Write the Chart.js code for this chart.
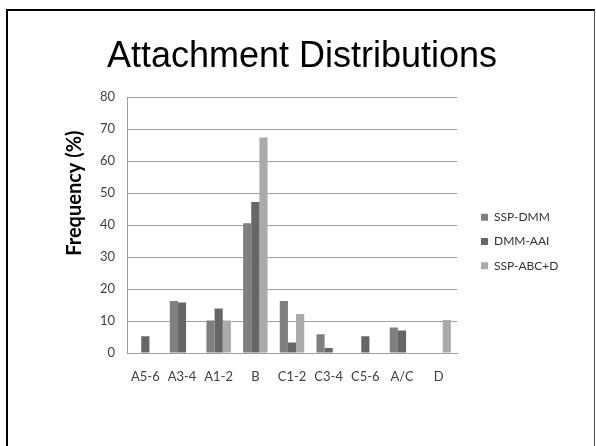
<!DOCTYPE html>
<html>
<head>
<meta charset="utf-8">
<script src="https://cdn.jsdelivr.net/npm/chart.js@4.4.1/dist/chart.umd.min.js"></script>
<style>
  html, body { margin: 0; padding: 0; background: #fff; }
  #wrap { position: relative; width: 596px; height: 446px; overflow: hidden; }
  #frame {
    position: absolute; left: 6px; top: 9px; width: 589px; height: 460px;
    border-left: 2px solid #000; border-top: 2px solid #000; border-right: 1px solid #444;
    box-sizing: border-box;
  }
  canvas { position: absolute; left: 0; top: 0; }
</style>
</head>
<body>
<div id="wrap">
  <div id="frame"></div>
  <canvas id="c" width="596" height="446"></canvas>
</div>
<script>
// Attachment classification categories
const categories = ['A5-6', 'A3-4', 'A1-2', 'B', 'C1-2', 'C3-4', 'C5-6', 'A/C', 'D'];

// Frequency (%) per category for each sample
const sspDmm    = [0,   16.3, 10.2, 40.6, 16.3, 5.9, 0,   8.0, 0];
const dmmAai    = [5.2, 15.8, 13.9, 47.2, 3.3,  1.6, 5.2, 7.0, 0];
const sspAbcD   = [0,   0,    10.2, 67.4, 12.2, 0,   0,   0,   10.3];

// Value axis ticks
const yTicks = [0, 10, 20, 30, 40, 50, 60, 70, 80];

const tickFont = { family: 'Lato', size: 13 };
const tickColor = '#404040';
const gridColor = '#a0a0a0';

// Layout helpers: fixed legend column width, legend block placement,
// and a raised position for the value-axis title.
const layoutTweaks = {
  id: 'layoutTweaks',
  beforeLayout(chart) {
    const lg = chart.legend;
    if (lg && !lg._fixedWidth) {
      const fit = lg.fit.bind(lg);
      lg.fit = function () { fit(); this.width = 139; };
      lg._fixedWidth = true;
    }
  },
  afterLayout(chart) {
    const lg = chart.legend;
    if (lg) {
      const pad = lg.options.labels.padding;
      const dx = 481 - (lg.left + pad);
      const dy = 241.5 - (lg.top + lg.bottom) / 2;
      lg.left += dx; lg.right += dx;
      lg.top += dy; lg.bottom += dy;
    }
    const y = chart.scales.y;
    if (y && !y._titleShift) {
      const drawTitle = y.drawTitle;
      y.drawTitle = function () {
        const t = this.top, b = this.bottom;
        this.top -= 32; this.bottom -= 32;
        drawTitle.call(this);
        this.top = t; this.bottom = b;
      };
      y._titleShift = true;
    }
  }
};

new Chart(document.getElementById('c'), {
  type: 'bar',
  data: {
    labels: categories,
    datasets: [
      { label: 'SSP-DMM',   data: sspDmm,  backgroundColor: '#7f7f7f' },
      { label: 'DMM-AAI',   data: dmmAai,  backgroundColor: '#666666' },
      { label: 'SSP-ABC+D', data: sspAbcD, backgroundColor: '#aaaaaa' }
    ]
  },
  options: {
    responsive: false,
    animation: false,
    events: [],
    layout: { padding: { left: 8, right: 0, top: 0, bottom: 0 } },
    datasets: {
      bar: { categoryPercentage: 0.667, barPercentage: 1.0, borderWidth: 0 }
    },
    plugins: {
      title: {
        display: true,
        text: 'Attachment Distributions',
        color: '#000',
        font: { family: 'Liberation Sans', size: 36, weight: 'normal' },
        padding: { top: 35, bottom: 19 }
      },
      legend: {
        position: 'right',
        labels: {
          boxWidth: 7,
          boxHeight: 7,
          padding: 12.3,
          color: '#333',
          font: { family: 'Lato', size: 12 }
        }
      },
      tooltip: { enabled: false }
    },
    scales: {
      x: {
        grid: { display: false, drawTicks: false },
        border: { display: true, color: gridColor, width: 1 },
        ticks: { color: tickColor, font: tickFont, padding: 16, maxRotation: 0, autoSkip: false },
        afterFit(scale) { scale.height = 93; }
      },
      y: {
        min: 0,
        max: 80,
        afterBuildTicks(scale) { scale.ticks = yTicks.map(v => ({ value: v })); },
        grid: { color: gridColor, drawTicks: false },
        border: { display: true, color: gridColor, width: 1 },
        ticks: { color: tickColor, font: tickFont, padding: 12 },
        title: {
          display: true,
          text: 'Frequency (%)',
          color: '#000',
          font: { family: 'Lato', size: 20, weight: 'bold' },
          padding: { top: 55, bottom: 0 }
        },
        afterFit(scale) { scale.width = 119; }
      }
    }
  },
  plugins: [layoutTweaks]
});
</script>
</body>
</html>
